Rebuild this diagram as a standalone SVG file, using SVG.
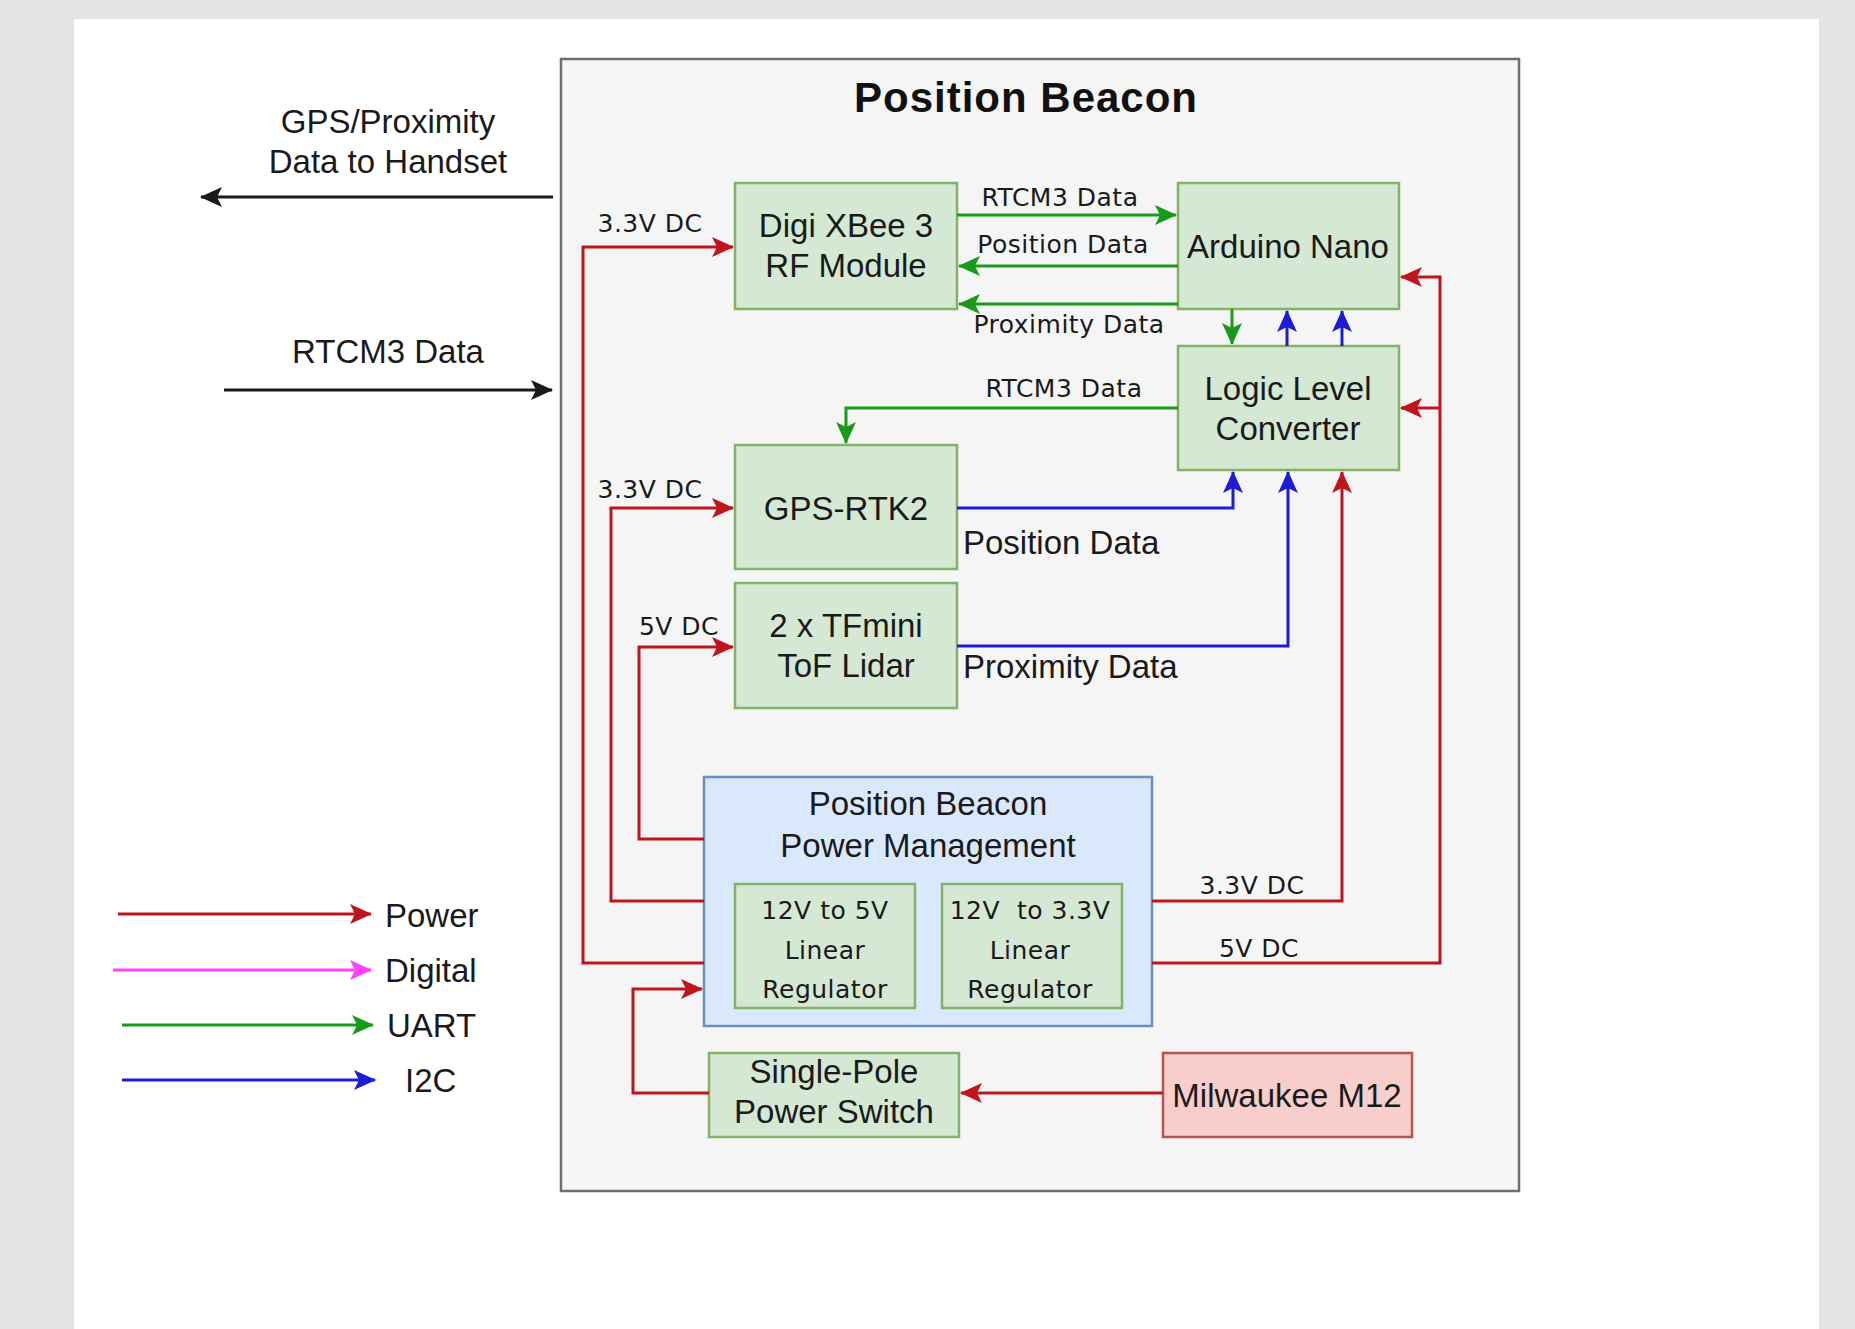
<svg xmlns="http://www.w3.org/2000/svg" width="1855" height="1329" viewBox="0 0 1855 1329">
<style>
.node{fill:#d5e8d4;stroke:#82b366;stroke-width:2.5}
.pm{fill:#dae8fc;stroke:#6c8ebf;stroke-width:2.5}
.bat{fill:#f8cecc;stroke:#b85450;stroke-width:2.5}
.t{font-family:"Liberation Sans",Arial,sans-serif;font-size:33px;fill:#1a1a1a;text-anchor:middle}
.s{font-family:"DejaVu Sans",Verdana,sans-serif;font-size:25px;fill:#1a1a1a;text-anchor:middle;letter-spacing:0.5px}
.l{font-family:"Liberation Sans",Arial,sans-serif;font-size:33px;fill:#1a1a1a}
.c{fill:none;stroke-width:3;stroke-linejoin:miter}
.red{stroke:#c0141e}.grn{stroke:#1a9a1a}.blu{stroke:#1c1cd6}.blk{stroke:#1a1a1a}.mag{stroke:#ff40ff}
</style>
<defs>
<marker id="ar" markerUnits="userSpaceOnUse" markerWidth="22" markerHeight="20" refX="21" refY="10" orient="auto"><path d="M0,0 L22,10 L0,20 L5,10 Z" fill="#c0141e"/></marker>
<marker id="ag" markerUnits="userSpaceOnUse" markerWidth="22" markerHeight="20" refX="21" refY="10" orient="auto"><path d="M0,0 L22,10 L0,20 L5,10 Z" fill="#1a9a1a"/></marker>
<marker id="ab" markerUnits="userSpaceOnUse" markerWidth="22" markerHeight="20" refX="21" refY="10" orient="auto"><path d="M0,0 L22,10 L0,20 L5,10 Z" fill="#1c1cd6"/></marker>
<marker id="ak" markerUnits="userSpaceOnUse" markerWidth="22" markerHeight="20" refX="21" refY="10" orient="auto"><path d="M0,0 L22,10 L0,20 L5,10 Z" fill="#1a1a1a"/></marker>
<marker id="am" markerUnits="userSpaceOnUse" markerWidth="22" markerHeight="20" refX="21" refY="10" orient="auto"><path d="M0,0 L22,10 L0,20 L5,10 Z" fill="#ff40ff"/></marker>
</defs>
<rect x="0" y="0" width="1855" height="1329" fill="#e4e4e4"/>
<rect x="74" y="19" width="1745" height="1310" fill="#ffffff"/>

<g id="beacon">
<rect x="561" y="59" width="958" height="1132" fill="#f5f5f5" stroke="#6e6e6e" stroke-width="2.5"/>
<text x="1026" y="112" font-family="'Liberation Sans',Arial,sans-serif" font-size="42" font-weight="bold" letter-spacing="1" text-anchor="middle" fill="#111">Position Beacon</text>
</g>

<g id="xbee"><rect class="node" x="735" y="183" width="222" height="126"/><text class="t" x="846" y="237">Digi XBee 3</text><text class="t" x="846" y="277">RF Module</text></g>
<g id="arduino"><rect class="node" x="1178" y="183" width="221" height="126"/><text class="t" x="1288" y="258">Arduino Nano</text></g>
<g id="logic"><rect class="node" x="1178" y="346" width="221" height="124"/><text class="t" x="1288" y="400">Logic Level</text><text class="t" x="1288" y="440">Converter</text></g>
<g id="gps"><rect class="node" x="735" y="445" width="222" height="124"/><text class="t" x="846" y="520">GPS-RTK2</text></g>
<g id="tfmini"><rect class="node" x="735" y="583" width="222" height="125"/><text class="t" x="846" y="637">2 x TFmini</text><text class="t" x="846" y="677">ToF Lidar</text></g>
<g id="powermgmt"><rect class="pm" x="704" y="777" width="448" height="249"/><text class="t" x="928" y="815">Position Beacon</text><text class="t" x="928" y="857">Power Management</text></g>
<g id="reg5"><rect class="node" x="735" y="884" width="180" height="124"/><text class="s" x="825" y="919">12V to 5V</text><text class="s" x="825" y="959">Linear</text><text class="s" x="825" y="998">Regulator</text></g>
<g id="reg33"><rect class="node" x="942" y="884" width="180" height="124"/><text class="s" x="1030" y="919" xml:space="preserve">12V  to 3.3V</text><text class="s" x="1030" y="959">Linear</text><text class="s" x="1030" y="998">Regulator</text></g>
<g id="switch"><rect class="node" x="709" y="1053" width="250" height="84"/><text class="t" x="834" y="1083">Single-Pole</text><text class="t" x="834" y="1123">Power Switch</text></g>
<g id="battery"><rect class="bat" x="1163" y="1053" width="249" height="84"/><text class="t" x="1287" y="1107">Milwaukee M12</text></g>

<g id="connectors">
<path class="c grn" d="M957,215 H1176" marker-end="url(#ag)"/>
<path class="c grn" d="M1178,266 H959" marker-end="url(#ag)"/>
<path class="c grn" d="M1178,304 H959" marker-end="url(#ag)"/>
<path class="c grn" d="M1232,309 V344" marker-end="url(#ag)"/>
<path class="c grn" d="M1178,408 H846 V443" marker-end="url(#ag)"/>
<path class="c blu" d="M1287,346 V311" marker-end="url(#ab)"/>
<path class="c blu" d="M1342,346 V311" marker-end="url(#ab)"/>
<path class="c blu" d="M957,508 H1233 V472" marker-end="url(#ab)"/>
<path class="c blu" d="M957,646 H1288 V472" marker-end="url(#ab)"/>
<path class="c red" d="M1152,901 H1342 V472" marker-end="url(#ar)"/>
<path class="c red" d="M1152,963 H1440 V277 H1401" marker-end="url(#ar)"/>
<path class="c red" d="M1440,408 H1401" marker-end="url(#ar)"/>
<path class="c red" d="M704,963 H583 V247 H733" marker-end="url(#ar)"/>
<path class="c red" d="M704,901 H611 V508 H733" marker-end="url(#ar)"/>
<path class="c red" d="M704,839 H639 V647 H733" marker-end="url(#ar)"/>
<path class="c red" d="M709,1093 H633 V989 H702" marker-end="url(#ar)"/>
<path class="c red" d="M1163,1093 H961" marker-end="url(#ar)"/>
<path class="c blk" d="M553,197 H201" marker-end="url(#ak)"/>
<path class="c blk" d="M224,390 H552" marker-end="url(#ak)"/>

<text class="s" x="1060" y="206">RTCM3 Data</text>
<text class="s" x="1063" y="253">Position Data</text>
<text class="s" x="1069" y="333">Proximity Data</text>
<text class="s" x="1064" y="397">RTCM3 Data</text>
<text class="s" x="650" y="232">3.3V DC</text>
<text class="s" x="650" y="498">3.3V DC</text>
<text class="s" x="679" y="635">5V DC</text>
<text class="s" x="1252" y="894">3.3V DC</text>
<text class="s" x="1259" y="957">5V DC</text>
<text class="l" x="963" y="554">Position Data</text>
<text class="l" x="963" y="678">Proximity Data</text>
<text class="t" x="388" y="133">GPS/Proximity</text>
<text class="t" x="388" y="173">Data to Handset</text>
<text class="t" x="388" y="363">RTCM3 Data</text>
</g>

<g id="legend">
<path class="c red" d="M118,914 H371" marker-end="url(#ar)"/>
<path class="c mag" d="M113,970 H371" marker-end="url(#am)"/>
<path class="c grn" d="M122,1025 H373" marker-end="url(#ag)"/>
<path class="c blu" d="M122,1080 H375" marker-end="url(#ab)"/>
<text class="t" x="385" y="927" style="text-anchor:start">Power</text>
<text class="t" x="385" y="982" style="text-anchor:start">Digital</text>
<text class="t" x="387" y="1037" style="text-anchor:start">UART</text>
<text class="t" x="405" y="1092" style="text-anchor:start">I2C</text>
</g>
</svg>
